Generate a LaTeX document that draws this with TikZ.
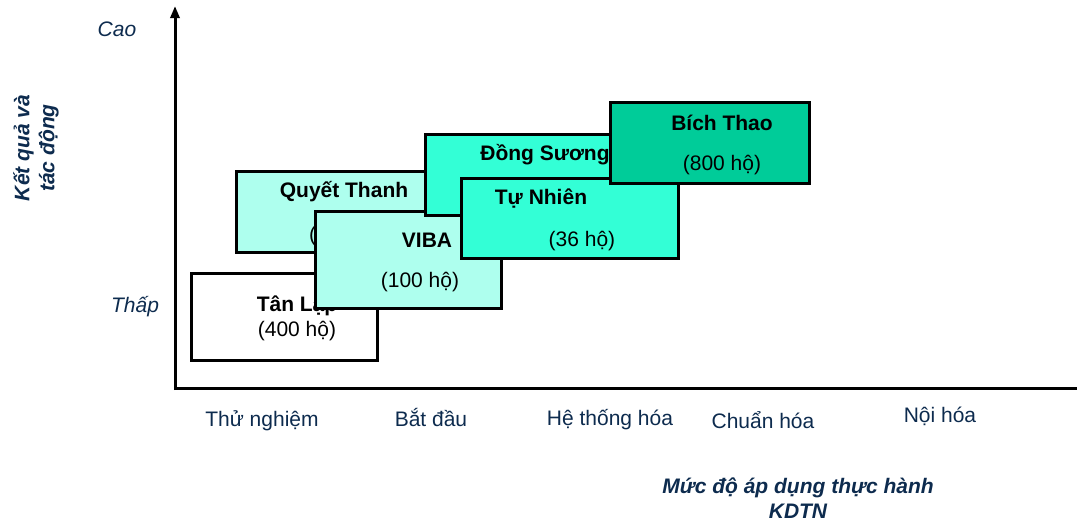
\documentclass[tikz,border=0pt]{standalone}
\usepackage{fontspec}
\setmainfont{Liberation Sans}
\usetikzlibrary{arrows.meta}
\definecolor{navy}{HTML}{0D2B4E}
\definecolor{lightaqua}{HTML}{AEFFEE}
\definecolor{midaqua}{HTML}{33FFD6}
\definecolor{darkaqua}{HTML}{00CC99}
\tikzset{
  box/.style={draw=black, line width=3pt, anchor=north west, inner sep=0pt, outer sep=0pt},
  boxtitle/.style={font=\fontsize{21}{25}\selectfont\bfseries, text=black, inner sep=0pt},
  boxsub/.style={font=\fontsize{21}{25}\selectfont, text=black, inner sep=0pt},
  axislabel/.style={font=\fontsize{21}{25}\selectfont, text=navy, inner sep=0pt},
  levellabel/.style={font=\fontsize{21}{25}\selectfont\itshape, text=navy, inner sep=0pt},
  axistitle/.style={font=\fontsize{21}{25}\selectfont\bfseries\itshape, text=navy, align=center, inner sep=0pt},
  axisline/.style={line width=3pt, black}
}
\begin{document}
\begin{tikzpicture}[x=1pt,y=-1pt]
\useasboundingbox (0,0) rectangle (1077,523);
% axes
\coordinate (origin) at (175,388);
\coordinate (ytop) at (175,6);
\coordinate (xend) at (1077,388);
\draw[axisline, -{Triangle[length=12pt,width=9pt]}] (175,390) -- (ytop);
\draw[axisline] (origin) -- (xend);
% boxes
\node[box, fill=white, minimum width=186pt, minimum height=87pt] (tanlap) at (191,273) {};
\node[boxtitle] (tanlapT) at (297,306) {Tân Lập};
\node[boxsub] (tanlapS) at (297,331) {(400 hộ)};

\node[box, fill=lightaqua, minimum width=190pt, minimum height=81pt] (quyetthanh) at (236,171) {};
\node[boxtitle] (quyetthanhT) at (344,192) {Quyết Thanh};
\node[boxsub, anchor=west] (quyetthanhS) at (309,236) {(};

\node[box, fill=lightaqua, minimum width=186pt, minimum height=97pt] (viba) at (315,211) {};
\node[boxtitle] (vibaT) at (427,240) {VIBA};
\node[boxsub] (vibaS) at (420,282) {(100 hộ)};

\node[box, fill=midaqua, minimum width=196pt, minimum height=81pt] (dongsuong) at (425,134) {};
\node[boxtitle] (dongsuongT) at (545,155) {Đồng Sương};

\node[box, fill=midaqua, minimum width=217pt, minimum height=80pt] (tunhien) at (461,178) {};
\node[boxtitle] (tunhienT) at (541,199) {Tự Nhiên};
\node[boxsub] (tunhienS) at (582,241) {(36 hộ)};

\node[box, fill=darkaqua, minimum width=199pt, minimum height=81pt] (bichthao) at (610,102) {};
\node[boxtitle] (bichthaoT) at (722,123) {Bích Thao};
\node[boxsub] (bichthaoS) at (722,165) {(800 hộ)};

% level labels
\node[levellabel] (cao) at (117,29) {Cao};
\node[levellabel] (thap) at (135,307) {Thấp};
\node[axistitle, rotate=90] (ytitle) at (36,148) {Kết quả và\\tác động};

% x labels
\node[axislabel] (l1) at (262,421) {Thử nghiệm};
\node[axislabel] (l2) at (431,417) {Bắt đầu};
\node[axislabel] (l3) at (610,420) {Hệ thống hóa};
\node[axislabel] (l4) at (763,420) {Chuẩn hóa};
\node[axislabel] (l5) at (940,416) {Nội hóa};
\node[axistitle] (xtitle) at (798,498) {Mức độ áp dụng thực hành\\KDTN};
\end{tikzpicture}
\end{document}
